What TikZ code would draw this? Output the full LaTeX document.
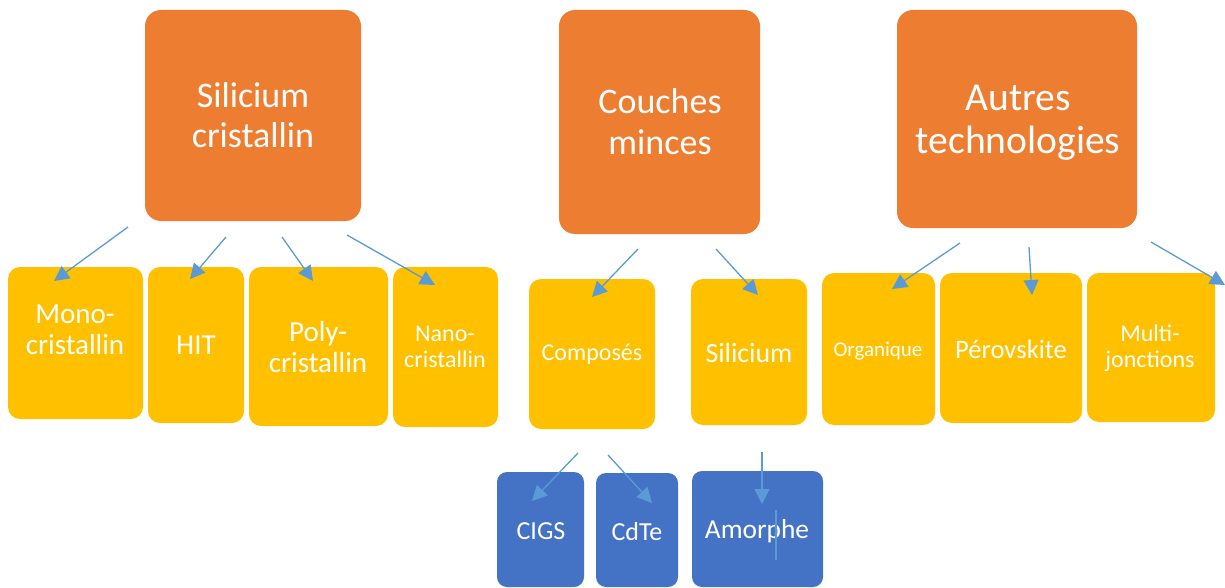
\documentclass[tikz,border=0pt]{standalone}
\usepackage{fontspec}
\setmainfont{Carlito}
\usetikzlibrary{arrows.meta}
\definecolor{catorange}{HTML}{ED7D31}
\definecolor{subyellow}{HTML}{FFC000}
\definecolor{leafblue}{HTML}{4472C4}
\definecolor{linkblue}{HTML}{5B9BD5}
\tikzset{
  cat/.style={fill=catorange, rounded corners=16pt, inner sep=0pt},
  sub/.style={fill=subyellow, rounded corners=12pt, inner sep=0pt},
  leaf/.style={fill=leafblue, rounded corners=10pt, inner sep=0pt},
  txt/.style={text=white, align=center, inner sep=0pt},
  link/.style={draw=linkblue, line width=1.3pt, -{Triangle[length=15pt,width=15pt]}},
}
% box from corner coordinates (left, top, right, bottom)
\newcommand\boxnode[6]{%
  \path[#1] (#3,#4) rectangle (#5,#6);
  \coordinate (#2) at ({(#3+#5)/2},{(#4+#6)/2});}
\begin{document}
\begin{tikzpicture}[x=1pt,y=-1pt]
\useasboundingbox (0,0) rectangle (1225,588);

% top categories
\boxnode{cat}{sc}{145}{10}{361}{221}
\boxnode{cat}{cm}{559}{10}{760}{234}
\boxnode{cat}{at}{897}{10}{1137}{228}
\node[txt, font=\fontsize{36}{40}\selectfont] (sc-t) at (253,115) {Silicium\\cristallin};
\node[txt, font=\fontsize{36}{41}\selectfont] (cm-t) at (660,122) {Couches\\minces};
\node[txt, font=\fontsize{39.6}{43}\selectfont] (at-t) at (1018,123) {Autres\\technologies};

% crystalline silicon family
\boxnode{sub}{mono}{8}{267}{143}{419}
\boxnode{sub}{hit}{148}{267}{244}{423}
\boxnode{sub}{poly}{249}{267}{388}{426}
\boxnode{sub}{nano}{393}{267}{498}{427}
\node[txt, font=\fontsize{29}{31}\selectfont] (mono-t) at (75,330) {Mono-\\cristallin};
\node[txt, font=\fontsize{29}{31}\selectfont] (hit-t) at (196,345) {HIT};
\node[txt, font=\fontsize{29}{31}\selectfont] (poly-t) at (318,347) {Poly-\\cristallin};
\node[txt, font=\fontsize{24}{26}\selectfont] (nano-t) at (445,347) {Nano-\\cristallin};

% thin films
\boxnode{sub}{comp}{529}{279}{655}{429}
\boxnode{sub}{si}{691}{279}{807}{425}
\node[txt, font=\fontsize{24}{26}\selectfont] (comp-t) at (592,354) {Composés};
\node[txt, font=\fontsize{27.8}{30}\selectfont] (si-t) at (749,353) {Silicium};

% other technologies
\boxnode{sub}{org}{822}{273}{935}{425}
\boxnode{sub}{perov}{940}{273}{1082}{423}
\boxnode{sub}{multi}{1087}{273}{1215}{422}
\node[txt, font=\fontsize{21}{23}\selectfont] (org-t) at (878,351) {Organique};
\node[txt, font=\fontsize{26.6}{29}\selectfont] (perov-t) at (1011,349) {Pérovskite};
\node[txt, font=\fontsize{24}{26}\selectfont] (multi-t) at (1150,348) {Multi-\\jonctions};

% third level
\boxnode{leaf}{cigs}{497}{472}{584}{587}
\boxnode{leaf}{cdte}{596}{473}{678}{587}
\boxnode{leaf}{amor}{692}{471}{823}{587}
\node[txt, font=\fontsize{26}{28}\selectfont] (cigs-t) at (541,531) {CIGS};
\node[txt, font=\fontsize{26}{28}\selectfont] (cdte-t) at (637,532) {CdTe};
\node[txt, font=\fontsize{27.4}{29}\selectfont] (amor-t) at (757,531) {Amorphe};

% arrow end points
\coordinate (a1s) at (128,227); \coordinate (a1e) at (54,281);
\coordinate (a2s) at (226,237); \coordinate (a2e) at (190,279);
\coordinate (a3s) at (282,237); \coordinate (a3e) at (313,281);
\coordinate (a4s) at (347,235); \coordinate (a4e) at (435,285);
\coordinate (b1s) at (638,249); \coordinate (b1e) at (592,297);
\coordinate (b2s) at (716,249); \coordinate (b2e) at (758,295);
\coordinate (c1s) at (960,243); \coordinate (c1e) at (892,289);
\coordinate (c2s) at (1029,247); \coordinate (c2e) at (1032,295);
\coordinate (c3s) at (1151,242); \coordinate (c3e) at (1225,285);
\coordinate (d1s) at (578,453); \coordinate (d1e) at (532,501);
\coordinate (d2s) at (608,455); \coordinate (d2e) at (652,503);
\coordinate (d3s) at (762,452); \coordinate (d3e) at (762,504);

\foreach \p in {a1,a2,a3,a4,b1,b2,c1,c2,c3,d1,d2,d3}
  \draw[link] (\p s) -- (\p e);

% short stroke across the last label
\coordinate (st1) at (776,510); \coordinate (st2) at (776,560);
\draw[linkblue, line width=1.3pt] (st1) -- (st2);
\end{tikzpicture}
\end{document}
